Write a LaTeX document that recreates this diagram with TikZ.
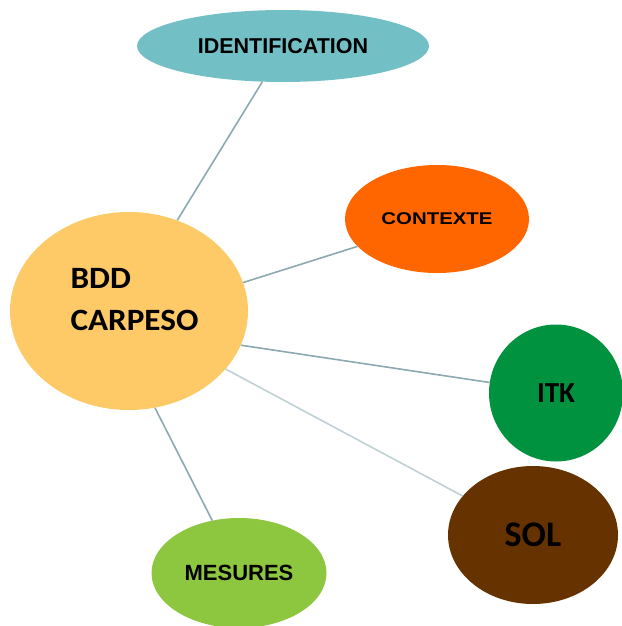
\documentclass[tikz,border=0pt]{standalone}
\usepackage{fontspec}
\setmainfont{Liberation Sans}
\newfontfamily\calib{Carlito}
\usepackage{tikz}
\usetikzlibrary{shapes.geometric}
\usepackage{xcolor}

\definecolor{bddcol}{RGB}{254,202,104}
\definecolor{idcol}{RGB}{114,191,197}
\definecolor{ctxcol}{RGB}{255,102,0}
\definecolor{itkcol}{RGB}{0,146,63}
\definecolor{solcol}{RGB}{102,51,0}
\definecolor{mescol}{RGB}{141,198,63}
\definecolor{linkcol}{RGB}{140,169,178}

\begin{document}
\begin{tikzpicture}[x=1pt, y=-1pt,
      blob/.style={ellipse, inner sep=0pt, font=\bfseries},
      link/.style={draw=linkcol, line width=1.6pt}]
   \useasboundingbox (0,0) rectangle (621,626);
   % the hub and its topics
   \node[blob, fill=bddcol, minimum width=238pt, minimum height=198pt,
         font=\calib\bfseries\fontsize{31}{42}\selectfont\addfontfeature{FakeStretch=1.07}] (bdd) at (129,311)
         {\raisebox{4pt}[0pt][0pt]{\begin{tabular}{@{}l@{}}BDD\\CARPESO\end{tabular}}\hspace*{-11pt}};
   \node[blob, fill=idcol, minimum width=292pt, minimum height=72pt,
         font=\bfseries\fontsize{21.5}{24}\selectfont] (ident) at (283,46) {IDENTIFICATION};
   \node[blob, fill=ctxcol, minimum width=184pt, minimum height=108pt,
         font=\bfseries\fontsize{17}{20}\selectfont\addfontfeature{FakeStretch=1.2}] (ctx) at (437,219) {CONTEXTE};
   \node[blob, fill=itkcol, minimum width=134pt, minimum height=137pt,
         font=\calib\bfseries\fontsize{29}{32}\selectfont] (itk) at (556,393) {ITK};
   \node[blob, fill=solcol, minimum width=170pt, minimum height=138pt,
         font=\calib\bfseries\fontsize{36}{40}\selectfont] (sol) at (533,535) {SOL};
   \node[blob, fill=mescol, minimum width=175pt, minimum height=110pt,
         font=\bfseries\fontsize{22}{24}\selectfont] (mes) at (239,573) {MESURES};
   % spokes
   \draw[link] (bdd.62) -- (ident.-120);
   \draw[link] (bdd.14) -- (ctx.199);
   \draw[link] (bdd.-17) -- (itk.171);
   \draw[link, draw=linkcol!55] (bdd.-31) -- (sol.151);
   \draw[link] (bdd.-75) -- (mes.117);
\end{tikzpicture}
\end{document}
